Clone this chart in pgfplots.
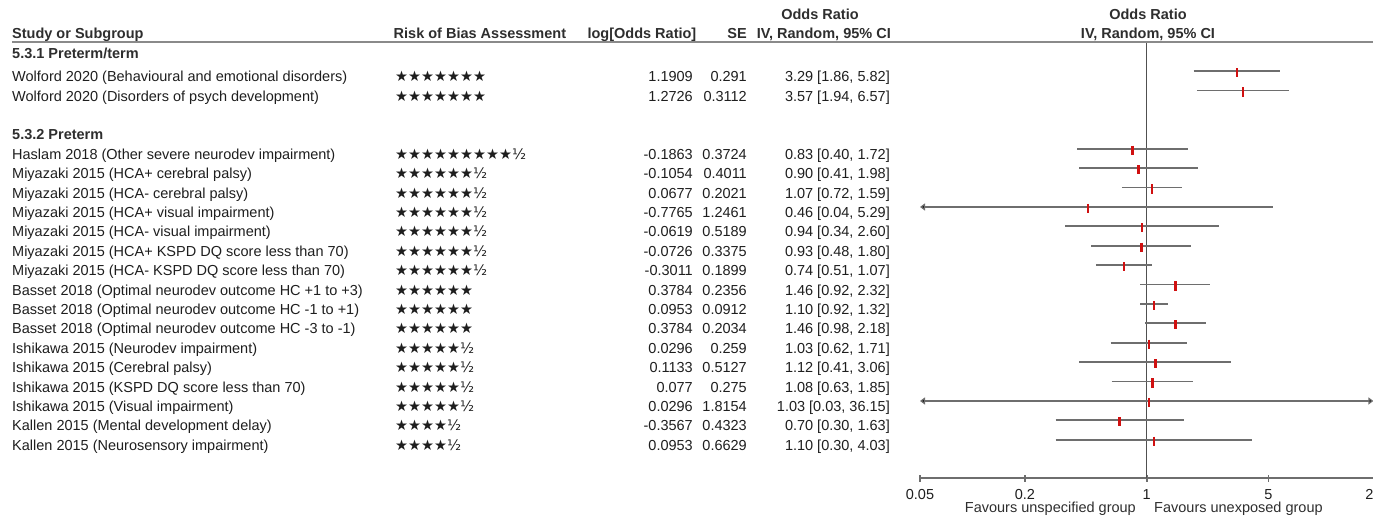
\documentclass[border=0pt]{standalone}
\usepackage{pgfplots}
\pgfplotsset{compat=1.18}
\usepackage{pgfplotstable}
\usetikzlibrary{arrows.meta}
\usepackage{fontspec}
\setmainfont{Liberation Sans}
\newfontfamily\starfont{DejaVu Sans}

\definecolor{txt}{HTML}{1E1E1E}
\definecolor{hdr}{HTML}{2E2E2E}
\definecolor{rulegray}{HTML}{8A8A8A}
\definecolor{cigray}{HTML}{6E6E6E}
\definecolor{nullgray}{HTML}{505050}
\definecolor{estred}{HTML}{D01010}

\newcommand\fs{\fontsize{14.5}{17}\selectfont}

% row index (0 = first study), odds ratio, lower and upper 95% CI
\pgfplotstableread{
row  or    lo    hi
0    3.29  1.86  5.82
1    3.57  1.94  6.57
4    0.83  0.40  1.72
5    0.90  0.41  1.98
6    1.07  0.72  1.59
7    0.46  0.04  5.29
8    0.94  0.34  2.60
9    0.93  0.48  1.80
10   0.74  0.51  1.07
11   1.46  0.92  2.32
12   1.10  0.92  1.32
13   1.46  0.98  2.18
14   1.03  0.62  1.71
15   1.12  0.41  3.06
16   1.08  0.63  1.85
17   1.03  0.03  36.15
18   0.70  0.30  1.63
19   1.10  0.30  4.03
}\estimates

% text row: index, study, stars, log OR, SE, OR [CI]
\newcommand\StudyRow[6]{%
  \pgfmathsetmacro\yy{517-(71.2+19.4*#1)-10.5}%
  \node[anchor=base west] at (12pt,\yy pt) {#2};
  \node[anchor=base west] at (395pt,\yy pt) {\starfont #3};
  \node[anchor=base east] at (693pt,\yy pt) {#4};
  \node[anchor=base east] at (747pt,\yy pt) {#5};
  \node[anchor=base east] at (890pt,\yy pt) {#6};
}

\tikzset{cil/.style={draw=cigray, line width=1.8pt}, hd/.style={font=\fs\bfseries, text=hdr}}

\begin{document}
\begin{tikzpicture}[font=\fs, every node/.style={inner sep=0pt, text=txt}]
\begin{axis}[
  at={(920pt,39pt)}, anchor=south west,
  scale only axis, width=453.4pt, height=436pt,
  xmode=log, xmin=0.05, xmax=20,
  ymin=-20.97, ymax=1.505,
  clip=false,
  hide y axis,
  axis x line*=bottom,
  x axis line style={-, draw=cigray, line width=1.6pt},
  xtick={0.05,0.2,1,5,20},
  xticklabels={0.05,0.2,1,5,20},
  minor xtick={},
  tick align=center,
  major tick length=7pt,
  x tick style={draw=cigray, line width=1.6pt},
  xticklabel style={font=\fs, text=txt, anchor=base, inner sep=0pt, yshift=-17.8pt},
  /pgf/number format/assume math mode=true,
]
  % line of no effect
  \addplot[draw=nullgray, line width=1.4pt] coordinates {(1,1.505) (1,-20.97)};

  % confidence intervals
  \addplot[cil] coordinates {(1.86,0) (5.82,0)};
  \addplot[cil] coordinates {(1.94,-1) (6.57,-1)};
  \addplot[cil] coordinates {(0.40,-4) (1.72,-4)};
  \addplot[cil] coordinates {(0.41,-5) (1.98,-5)};
  \addplot[cil] coordinates {(0.72,-6) (1.59,-6)};
  % 0.04 lies below the axis range: drawn to the edge with an arrow
  \addplot[cil, {Triangle[length=5pt,width=7pt,fill=black]}-] coordinates {(0.05,-7) (5.29,-7)};
  \addplot[cil] coordinates {(0.34,-8) (2.60,-8)};
  \addplot[cil] coordinates {(0.48,-9) (1.80,-9)};
  \addplot[cil] coordinates {(0.51,-10) (1.07,-10)};
  \addplot[cil] coordinates {(0.92,-11) (2.32,-11)};
  \addplot[cil] coordinates {(0.92,-12) (1.32,-12)};
  \addplot[cil] coordinates {(0.98,-13) (2.18,-13)};
  \addplot[cil] coordinates {(0.62,-14) (1.71,-14)};
  \addplot[cil] coordinates {(0.41,-15) (3.06,-15)};
  \addplot[cil] coordinates {(0.63,-16) (1.85,-16)};
  % 0.03 to 36.15 exceeds both ends
  \addplot[cil, {Triangle[length=5pt,width=7pt,fill=black]}-{Triangle[length=5pt,width=7pt,fill=black]}] coordinates {(0.05,-17) (20,-17)};
  \addplot[cil] coordinates {(0.30,-18) (1.63,-18)};
  \addplot[cil] coordinates {(0.30,-19) (4.03,-19)};

  % point estimates
  \addplot[only marks, mark=|, mark size=4.6pt,
    mark options={draw=estred, line width=2.6pt, yshift=-1.5pt}]
    table[x=or, y expr=-\thisrow{row}] {\estimates};
\end{axis}

% header
\node[anchor=base west, hd] at (12pt,478.5pt) {Study or Subgroup};
\node[anchor=base west, hd] at (393.5pt,478.5pt) {Risk of Bias Assessment};
\node[anchor=base east, hd] at (696.5pt,478.5pt) {log[Odds Ratio]};
\node[anchor=base east, hd] at (747pt,478.5pt) {SE};
\node[anchor=base east, hd] at (891pt,478.5pt) {IV, Random, 95\% CI};
\node[anchor=base, hd] at (820pt,497.5pt) {Odds Ratio};
\node[anchor=base, hd] at (1148pt,497.5pt) {Odds Ratio};
\node[anchor=base, hd] at (1148pt,478.5pt) {IV, Random, 95\% CI};
\draw[rulegray, line width=1.8pt] (12pt,475pt) -- (1373pt,475pt);

% subgroup headings
\node[anchor=base west, hd] at (12pt,458.7pt) {5.3.1 Preterm/term};
\node[anchor=base west, hd] at (12pt,377pt) {5.3.2 Preterm};

\StudyRow{0}{Wolford 2020 (Behavioural and emotional disorders)}{★★★★★★★}{1.1909}{0.291}{3.29 [1.86, 5.82]}
\StudyRow{1}{Wolford 2020 (Disorders of psych development)}{★★★★★★★}{1.2726}{0.3112}{3.57 [1.94, 6.57]}
\StudyRow{4}{Haslam 2018 (Other severe neurodev impairment)}{★★★★★★★★★½}{-0.1863}{0.3724}{0.83 [0.40, 1.72]}
\StudyRow{5}{Miyazaki 2015 (HCA+ cerebral palsy)}{★★★★★★½}{-0.1054}{0.4011}{0.90 [0.41, 1.98]}
\StudyRow{6}{Miyazaki 2015 (HCA- cerebral palsy)}{★★★★★★½}{0.0677}{0.2021}{1.07 [0.72, 1.59]}
\StudyRow{7}{Miyazaki 2015 (HCA+ visual impairment)}{★★★★★★½}{-0.7765}{1.2461}{0.46 [0.04, 5.29]}
\StudyRow{8}{Miyazaki 2015 (HCA- visual impairment)}{★★★★★★½}{-0.0619}{0.5189}{0.94 [0.34, 2.60]}
\StudyRow{9}{Miyazaki 2015 (HCA+ KSPD DQ score less than 70)}{★★★★★★½}{-0.0726}{0.3375}{0.93 [0.48, 1.80]}
\StudyRow{10}{Miyazaki 2015 (HCA- KSPD DQ score less than 70)}{★★★★★★½}{-0.3011}{0.1899}{0.74 [0.51, 1.07]}
\StudyRow{11}{Basset 2018 (Optimal neurodev outcome HC +1 to +3)}{★★★★★★}{0.3784}{0.2356}{1.46 [0.92, 2.32]}
\StudyRow{12}{Basset 2018 (Optimal neurodev outcome HC -1 to +1)}{★★★★★★}{0.0953}{0.0912}{1.10 [0.92, 1.32]}
\StudyRow{13}{Basset 2018 (Optimal neurodev outcome HC -3 to -1)}{★★★★★★}{0.3784}{0.2034}{1.46 [0.98, 2.18]}
\StudyRow{14}{Ishikawa 2015 (Neurodev impairment)}{★★★★★½}{0.0296}{0.259}{1.03 [0.62, 1.71]}
\StudyRow{15}{Ishikawa 2015 (Cerebral palsy)}{★★★★★½}{0.1133}{0.5127}{1.12 [0.41, 3.06]}
\StudyRow{16}{Ishikawa 2015 (KSPD DQ score less than 70)}{★★★★★½}{0.077}{0.275}{1.08 [0.63, 1.85]}
\StudyRow{17}{Ishikawa 2015 (Visual impairment)}{★★★★★½}{0.0296}{1.8154}{1.03 [0.03, 36.15]}
\StudyRow{18}{Kallen 2015 (Mental development delay)}{★★★★½}{-0.3567}{0.4323}{0.70 [0.30, 1.63]}
\StudyRow{19}{Kallen 2015 (Neurosensory impairment)}{★★★★½}{0.0953}{0.6629}{1.10 [0.30, 4.03]}

% direction labels under the scale
\node[anchor=base east, text=hdr] at (1136pt,4.5pt) {Favours unspecified group};
\node[anchor=base west, text=hdr] at (1154pt,4.5pt) {Favours unexposed group};

\pgfresetboundingbox
\path[use as bounding box] (0,0) rectangle (1373pt,517pt);
\end{tikzpicture}
\end{document}
